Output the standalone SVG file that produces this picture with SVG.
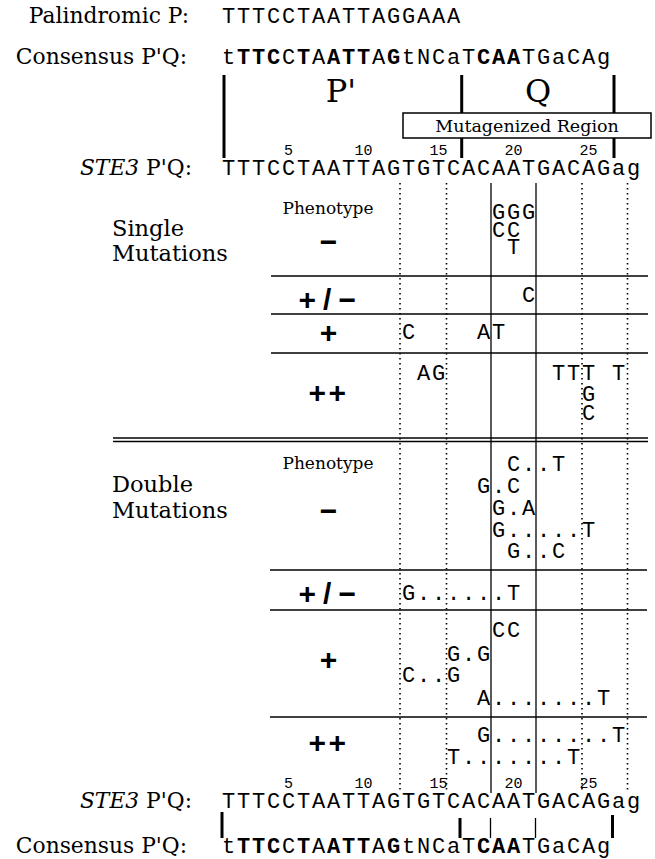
<svg xmlns="http://www.w3.org/2000/svg" width="655" height="859" viewBox="0 0 655 859">
<style>
.lbl{font-family:"DejaVu Serif","Liberation Serif",serif;font-size:22.5px;fill:#000}
.top{font-size:21.8px}
.it{font-style:italic}
.seq{font-family:"Liberation Mono","DejaVu Sans Mono",monospace;font-size:22px;letter-spacing:1.8px;fill:#000}
.b{font-weight:bold}
.num{font-family:"Liberation Mono","DejaVu Sans Mono",monospace;font-size:15px;text-anchor:middle;fill:#000}
.ph{font-family:"Liberation Sans",Arial,sans-serif;font-weight:bold;font-size:30px;fill:#000}
.mid{text-anchor:middle}
.pheno{font-family:"DejaVu Serif","Liberation Serif",serif;font-size:17px;text-anchor:middle;fill:#000}
.bar{stroke:#000;stroke-width:3;fill:none}
.thin{stroke:#000;stroke-width:1.3;fill:none}
.hl{stroke:#000;stroke-width:1.6;fill:none}
.dot{stroke:#000;stroke-width:1.6;stroke-dasharray:1.6 3.4;fill:none}
</style>

<g id="header">
<text class="lbl top" x="189" y="23" text-anchor="end">Palindromic P:</text>
<text class="seq" x="221.9" y="23">TTTCCTAATTAGGAAA</text>
<text class="lbl top" x="187" y="64" text-anchor="end">Consensus P'Q:</text>
<text class="seq" x="221.9" y="64">t<tspan class="b">TTC</tspan>C<tspan class="b">T</tspan>A<tspan class="b">ATT</tspan>A<tspan class="b">G</tspan>tNCaT<tspan class="b">CAA</tspan>TGaCAg</text>
<line class="bar" x1="224" y1="75" x2="224" y2="158"/>
<line class="bar" x1="461.7" y1="75" x2="461.7" y2="158"/>
<line class="bar" x1="614" y1="75" x2="614" y2="158"/>
<text class="lbl mid" x="341" y="102" style="font-size:32px">P'</text>
<text class="lbl mid" x="538" y="102" style="font-size:32px">Q</text>
</g>

<g id="mutagenized-region">
<rect x="403" y="113" width="248" height="25" fill="#fff" stroke="#000" stroke-width="1.5"/>
<text class="lbl mid" x="527" y="132" style="font-size:17.5px">Mutagenized Region</text>
</g>

<g id="ste3-top">
<text class="lbl top" x="192" y="175" text-anchor="end"><tspan class="it">STE3</tspan> P'Q:</text>
<text class="num" x="288.5" y="155">5</text>
<text class="num" x="363.5" y="155">10</text>
<text class="num" x="438.5" y="155">15</text>
<text class="num" x="513.5" y="155">20</text>
<text class="num" x="588.5" y="155">25</text>
<text class="seq" x="221.9" y="175">TTTCCTAATTAGTGTCACAATGACAGag</text>
</g>

<g id="connectors">
<line class="dot" x1="400" y1="183" x2="400" y2="793"/>
<line class="dot" x1="446.5" y1="183" x2="446.5" y2="793"/>
<line class="thin" x1="491" y1="183" x2="491" y2="793"/>
<line class="thin" x1="536" y1="183" x2="536" y2="793"/>
<line class="dot" x1="582" y1="183" x2="582" y2="793"/>
<line class="dot" x1="627.5" y1="183" x2="627.5" y2="793"/>
<line class="hl" x1="271" y1="276" x2="648" y2="276"/>
<line class="hl" x1="271" y1="314" x2="648" y2="314"/>
<line class="hl" x1="271" y1="353" x2="648" y2="353"/>
<line class="hl" x1="113" y1="438" x2="648" y2="438"/>
<line class="hl" x1="113" y1="441.5" x2="648" y2="441.5"/>
<line class="hl" x1="270" y1="570" x2="647" y2="570"/>
<line class="hl" x1="270" y1="610" x2="647" y2="610"/>
<line class="hl" x1="270" y1="717" x2="647" y2="717"/>
</g>

<g id="single-mutations">
<text class="lbl" x="112" y="236">Single</text>
<text class="lbl" x="112" y="261">Mutations</text>
<text class="pheno" x="328" y="214">Phenotype</text>
<text class="ph mid" x="328.5" y="252">−</text>
<text class="ph" x="298.6 323 338.6" y="309.5">+/−</text>
<text class="ph mid" x="328.5" y="343">+</text>
<text class="ph" x="308.6 328.6" y="403">++</text>
<text class="seq" x="491.9" y="219">GGG</text>
<text class="seq" x="491.9" y="237">CC</text>
<text class="seq" x="506.9" y="254">T</text>
<text class="seq" x="521.9" y="302">C</text>
<text class="seq" x="401.9" y="339">C</text>
<text class="seq" x="476.9" y="339">AT</text>
<text class="seq" x="416.9" y="380">AG</text>
<text class="seq" x="551.9" y="380">TTT T</text>
<text class="seq" x="581.9" y="401">G</text>
<text class="seq" x="581.9" y="420">C</text>
</g>

<g id="double-mutations">
<text class="lbl" x="112" y="492">Double</text>
<text class="lbl" x="112" y="518">Mutations</text>
<text class="pheno" x="328" y="469">Phenotype</text>
<text class="ph mid" x="328.5" y="520.5">−</text>
<text class="ph" x="298.6 323 338.6" y="603.5">+/−</text>
<text class="ph mid" x="328.5" y="669.5">+</text>
<text class="ph" x="308.6 328.6" y="752.5">++</text>
<text class="seq" x="506.9" y="471">C..T</text>
<text class="seq" x="476.9" y="493">G.C</text>
<text class="seq" x="491.9" y="515">G.A</text>
<text class="seq" x="491.9" y="537">G.....T</text>
<text class="seq" x="506.9" y="558">G..C</text>
<text class="seq" x="401.9" y="600">G......T</text>
<text class="seq" x="491.9" y="637">CC</text>
<text class="seq" x="446.9" y="661">G.G</text>
<text class="seq" x="401.9" y="682">C..G</text>
<text class="seq" x="476.9" y="705">A.......T</text>
<text class="seq" x="476.9" y="742">G........T</text>
<text class="seq" x="446.9" y="764">T.......T</text>
</g>

<g id="footer">
<text class="num" x="288.5" y="788">5</text>
<text class="num" x="363.5" y="788">10</text>
<text class="num" x="438.5" y="788">15</text>
<text class="num" x="513.5" y="788">20</text>
<text class="num" x="588.5" y="788">25</text>
<text class="lbl top" x="192" y="808" text-anchor="end"><tspan class="it">STE3</tspan> P'Q:</text>
<text class="seq" x="221.9" y="808">TTTCCTAATTAGTGTCACAATGACAGag</text>
<line class="bar" x1="222" y1="812" x2="222" y2="838"/>
<line class="bar" x1="460" y1="818" x2="460" y2="838"/>
<line class="thin" x1="490.5" y1="818" x2="490.5" y2="838"/>
<line class="thin" x1="535.5" y1="818" x2="535.5" y2="838"/>
<line class="bar" x1="612.5" y1="815" x2="612.5" y2="838"/>
<text class="lbl top" x="187" y="853" text-anchor="end">Consensus P'Q:</text>
<text class="seq" x="221.9" y="853">t<tspan class="b">TTC</tspan>C<tspan class="b">T</tspan>A<tspan class="b">ATT</tspan>A<tspan class="b">G</tspan>tNCaT<tspan class="b">CAA</tspan>TGaCAg</text>
</g>
</svg>
